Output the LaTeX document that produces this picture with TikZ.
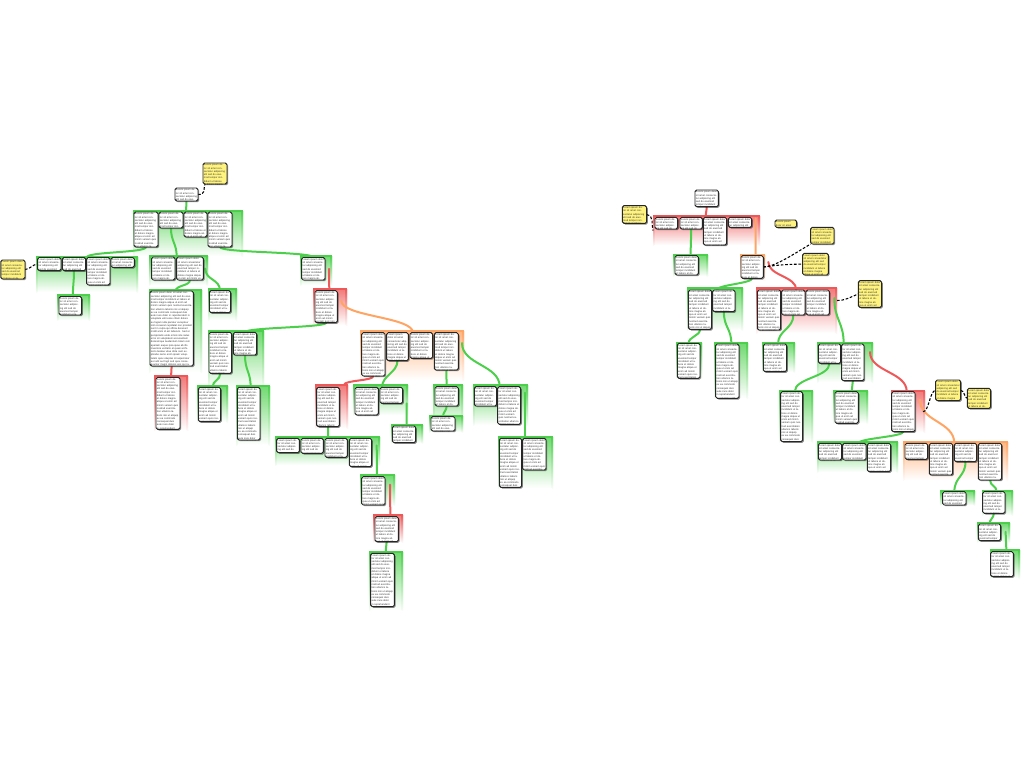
\documentclass[tikz,border=0pt]{standalone}
\usepackage{fontspec}
\setmainfont{Liberation Sans}
\usetikzlibrary{calc,shadows}
\pgfdeclarelayer{bg}
\pgfdeclarelayer{mid}
\pgfsetlayers{bg,mid,main}
\definecolor{cg}{RGB}{76,208,76}
\definecolor{cr}{RGB}{238,88,88}
\definecolor{co}{RGB}{255,165,100}
\definecolor{cy}{RGB}{255,243,128}
\newcommand\fillertext{Lorem ipsum dolor sit amet consectetur adipiscing elit sed do eiusmod tempor incididunt ut labore et dolore magna aliqua ut enim ad minim veniam quis nostrud exercitation ullamco laboris nisi ut aliquip ex ea commodo consequat duis aute irure dolor in reprehenderit in voluptate velit esse cillum dolore eu fugiat nulla pariatur excepteur sint occaecat cupidatat non proident sunt in culpa qui officia deserunt mollit anim id est laborum. Sed ut perspiciatis unde omnis iste natus error sit voluptatem accusantium doloremque laudantium totam rem aperiam eaque ipsa quae ab illo inventore veritatis et quasi architecto beatae vitae dicta sunt explicabo nemo enim ipsam voluptatem quia voluptas sit aspernatur aut odit aut fugit sed quia consequuntur magni dolores eos qui ratione voluptatem sequi nesciunt neque porro quisquam est qui dolorem ipsum quia dolor sit amet consectetur adipisci velit sed quia non numquam eius modi tempora incidunt ut labore et dolore magnam aliquam quaerat voluptatem ut enim ad minima veniam quis nostrum exercitationem ullam corporis suscipit laboriosam nisi ut aliquid ex ea commodi consequatur quis autem vel eum iure reprehenderit qui in ea voluptate velit esse quam nihil molestiae consequatur vel illum qui dolorem eum fugiat quo voluptas nulla pariatur at vero eos et accusamus et iusto odio dignissimos ducimus qui blanditiis praesentium voluptatum deleniti atque corrupti quos dolores et quas molestias excepturi sint occaecati cupiditate non provident similique sunt in culpa qui officia deserunt mollitia animi id est laborum et dolorum fuga.}
\tikzset{
  boxst/.style={draw=black!85, line width=0.7pt, rounded corners=1.2pt, fill=white, inner sep=0pt, outer sep=0pt,
    drop shadow={shadow xshift=0.9pt, shadow yshift=-0.9pt, fill=black, opacity=0.45}},
  notest/.style={boxst, fill=cy},
  conn/.style={line width=1.5pt, line cap=round},
  dsh/.style={draw=black, line width=0.8pt, dash pattern=on 2pt off 1.3pt},
  txt/.style={anchor=north west, inner sep=0.7pt, align=left, font=\fontsize{1.9}{2.45}\selectfont, text=black!80}
}
\newcommand\grp[6]{%
  \begin{pgfonlayer}{bg}
  \shade[top color=#2!80!white, bottom color=white] (#3,#4) rectangle (#5,#6);
  \shade[top color=#2, bottom color=#2!5!white] (#3,#4) rectangle (#3+1.3,#6);
  \shade[top color=#2, bottom color=#2!5!white] (#5-1.3,#4) rectangle (#5,#6);
  \draw[#2, line width=1.2pt] (#3,#4) -- (#5,#4);
  \pgfmathsetmacro\gw{(#5-#3)*0.75}\pgfmathsetmacro\gh{(#6-#4)*0.75}
  \node[inner sep=0pt, outer sep=0pt, minimum width=\gw pt, minimum height=\gh pt, anchor=north west] (#1) at (#3,#4) {};
  \end{pgfonlayer}}
\newcommand\bxg[6]{%
  \pgfmathsetmacro\bw{(#5-#3)*0.75}\pgfmathsetmacro\bh{(#6-#4)*0.75}\pgfmathsetmacro\tw{(#5-#3)*0.75-1.4}
  \node[#1, minimum width=\bw pt, minimum height=\bh pt, anchor=north west,
    path picture={\node[txt, text width=\tw pt] at (path picture bounding box.north west) {\fillertext};}] (#2) at (#3,#4) {};}
\newcommand\bx[5]{\bxg{boxst}{#1}{#2}{#3}{#4}{#5}}
\newcommand\nt[5]{\bxg{notest}{#1}{#2}{#3}{#4}{#5}}
\newcommand\cn[4]{\draw[conn,#1] #2 .. controls +(0,#4) and +(0,-#4) .. #3;}
\begin{document}
\begin{tikzpicture}[x=0.75pt,y=-0.75pt]
\begin{pgfonlayer}{bg}
\fill[white] (0,0) rectangle (1024,768);
\end{pgfonlayer}
\useasboundingbox (0,0) rectangle (1024,768);
% ---------- frames ----------
\grp{G1}{cg}{133}{211}{243}{256}
\grp{G2}{cg}{36}{257}{138}{292}
\grp{G3}{cg}{57}{295}{90}{320}
\grp{G4}{cg}{149}{256}{208}{285}
\grp{G5}{cg}{300}{256}{332}{285}
\grp{G6}{cg}{149}{290}{202}{372}
\grp{G7}{cg}{208}{289}{237}{320}
\grp{G8}{cr}{313}{289}{347}{325}
\grp{G9}{cg}{208}{331}{264}{388}
\grp{G10}{cr}{154}{376}{188}{430}
\grp{G11}{cg}{197}{386}{228}{422}
\grp{G12}{cg}{236}{386}{270}{445}
\grp{G13}{co}{360}{331}{464}{380}
\grp{G14}{cr}{315}{385}{348}{428}
\grp{G15}{cg}{353}{385}{408}{415}
\grp{G16}{cg}{391}{425}{423}{443}
\grp{G17}{cg}{433}{385}{463}{425}
\grp{G18}{cg}{429}{416}{463}{432}
\grp{G19}{cg}{473}{385}{528}{425}
\grp{G20}{cg}{498}{437}{553}{488}
\grp{G21}{cg}{275}{437}{380}{465}
\grp{G22}{cg}{360}{475}{395}{505}
\grp{G23}{cr}{373}{515}{403}{542}
\grp{G24}{cg}{369}{552}{403}{610}
\grp{H1}{cr}{653}{216}{760}{245}
\grp{H2}{cg}{673}{255}{708}{276}
\grp{H3}{co}{740}{255}{765}{280}
\grp{H4}{cg}{687}{288}{743}{330}
\grp{H5}{cr}{756}{288}{837}{333}
\grp{H6}{cg}{676}{343}{702}{378}
\grp{H7}{cg}{714}{343}{748}{398}
\grp{H8}{cg}{762}{343}{795}{372}
\grp{H9}{cg}{817}{343}{873}{382}
\grp{H10}{cg}{779}{391}{813}{442}
\grp{H11}{cg}{833}{391}{868}{423}
\grp{H12}{cr}{891}{391}{925}{432}
\grp{H13}{cg}{817}{442}{898}{472}
\grp{H14}{co}{903}{442}{1008}{480}
\grp{H15}{cg}{940}{491}{975}{505}
\grp{H16}{cg}{982}{491}{1013}{515}
\grp{H17}{cg}{977}{523}{1010}{542}
\grp{H18}{cg}{990}{550}{1020}{578}
% ---------- boxes, left tree ----------
\bx{R}{175}{188}{198}{201}
\bx{a1}{134}{212}{158}{247}\bx{a2}{159}{212}{183}{228}\bx{a3}{184}{212}{207}{237}\bx{a4}{208}{212}{232}{247}
\bx{b1}{37.7}{257.5}{61}{270.7}\bx{b2}{62.3}{257.5}{85.7}{270.7}\bx{b3}{86.7}{257.5}{110}{285}\bx{b4}{111}{257.5}{134.3}{267.3}
\bx{c1}{59}{296.5}{81.7}{315}
\bx{d1}{151.7}{257}{175}{280}\bx{d2}{176.7}{257}{203.3}{280}
\bx{e1}{301.7}{257.5}{325}{280}
\bx{f1}{150}{291}{193.3}{366}
\bx{g1}{209.3}{290.7}{230.7}{312.7}
\bx{h1}{315}{290.7}{337.3}{322.7}
\bx{i1}{209}{332.3}{231.7}{373.3}\bx{i2}{233.3}{332.3}{256.7}{355}
\bx{j1}{156}{377.3}{180}{429.3}
\bx{k1}{198.3}{387.3}{220.7}{421.7}
\bx{k2}{237.3}{387.3}{260}{440}
\bx{l1}{361.7}{332.7}{385}{376}\bx{l2}{386.7}{332.7}{408.3}{360.7}\bx{l3}{410}{332.7}{432.7}{358.3}\bx{l4}{434.3}{332.7}{458.3}{370}
\bx{m1}{316.7}{387.3}{339.3}{426.7}
\bx{n1}{355}{387.3}{378.3}{415}\bx{n2}{380}{387.3}{402.7}{403.3}
\bx{o1}{392.3}{426}{415.7}{442.7}
\bx{p1}{435}{386.7}{458.3}{406}
\bx{q1}{431}{416.7}{455}{431}
\bx{r1}{474.3}{386.7}{496.7}{406}\bx{r2}{497.7}{386.7}{520.7}{424.3}
\bx{s1}{499.3}{438.3}{521.7}{487.3}\bx{s2}{522.7}{438.3}{546}{470}
\bx{t1}{276.7}{438.3}{299.3}{452.7}\bx{t2}{301}{438.3}{323.3}{453.3}\bx{t3}{325}{438.3}{347.3}{457.3}\bx{t4}{349.3}{438.3}{371.7}{466.7}
\bx{u1}{361.7}{476.7}{385}{505}
\bx{v1}{375}{516.7}{398.3}{541.7}
\bx{w1}{370.7}{553.3}{394.3}{606.7}
% ---------- boxes, right tree ----------
\bx{R2}{695}{190}{718.3}{206.7}
\bx{x1}{655}{217.3}{677.7}{229}\bx{x2}{680}{217.3}{702.3}{229}\bx{x3}{703.3}{217.3}{726.7}{245}\bx{x4}{728.3}{217.3}{751.7}{227.3}
\bx{y1}{675}{255.7}{698.3}{275}
\bx{z1}{741}{255.7}{763.3}{278.3}
\bx{aa1}{688.3}{290}{711.7}{329.3}\bx{aa2}{712.7}{290}{735}{311.7}
\bx{bb1}{757.3}{290}{780.7}{330}\bx{bb2}{781.7}{290}{805}{315}\bx{bb3}{806}{290}{829.3}{315}
\bx{cc1}{677.3}{343.3}{700}{378.3}
\bx{cc2}{715.7}{344}{739}{398.3}
\bx{dd1}{763.3}{344}{786.7}{371.7}
\bx{ee1}{818.3}{344}{840.7}{363.3}\bx{ee2}{841.7}{344}{864}{380.7}
\bx{ff1}{780.7}{391.7}{802.7}{441.7}
\bx{gg1}{835}{391.7}{858.3}{423.3}
\bx{hh1}{891.7}{391.7}{915}{431.7}
\bx{ii1}{818.3}{443.3}{841.7}{460}\bx{ii2}{842.7}{443.3}{866}{460}\bx{ii3}{867.3}{443.3}{890.7}{471.7}
\bx{jj1}{905}{443.3}{927.7}{459.3}\bx{jj2}{929.3}{443.3}{952.7}{475}\bx{jj3}{954.3}{443.3}{976.7}{461.7}\bx{jj4}{978.3}{443.3}{1001.7}{480}
\bx{kk1}{942.7}{491.7}{966}{505}
\bx{kk2}{982.7}{491.7}{1005}{513.3}
\bx{ll1}{978.3}{524}{1000.7}{540.7}
\bx{mm1}{990.7}{551.7}{1013.3}{576.7}
% ---------- notes ----------
\nt{N1}{203}{163}{227}{184}
\nt{N2}{0.8}{260}{25}{279}
\nt{N3}{622.3}{205.7}{646.7}{223.3}
\nt{N4}{775}{220}{796.7}{227.3}
\nt{N5}{810.7}{227.3}{834}{244}
\nt{N6}{802.7}{253.3}{828.3}{275}
\nt{N7}{858.3}{280.7}{881.7}{307.3}
\nt{N8}{935.7}{380}{960.7}{400.7}
\nt{N9}{967.3}{388.3}{990.7}{408.3}
% ---------- connectors ----------
\begin{pgfonlayer}{mid}
\cn{cg}{(R.south)}{($(a3.north west)+(2,0)$)}{5}
\cn{cg}{(a1.south)}{(b3.north west)}{6}
\cn{cg}{(b2.south)}{($(c1.north)+(2.5,0)$)}{12}
\cn{cg}{(a2.south)}{(d2.north west)}{14}
\cn{cg}{(a4.south)}{(e1.north)}{6}
\cn{cg}{(d2.south)}{($(f1.north)+(4,0)$)}{6}
\cn{cg}{($(d2.east)+(2,0)$)}{(g1.north)}{12}
\cn{cr}{($(e1.east)+(4,0)$)}{($(h1.north east)+(-8,0)$)}{10}
\cn{cg}{(h1.south)}{(i2.north)}{5}
\cn{cr}{(f1.south)}{($(j1.north)+(3,0)$)}{5}
\cn{cg}{(i1.south)}{($(k1.north)+(3,0)$)}{7}
\cn{cg}{(i2.south)}{($(k2.north)+(2,0)$)}{16}
\cn{co}{($(h1.east)+(4,-6)$)}{($(l3.north west)+(3,0)$)}{16}
\cn{cr}{(l1.south)}{($(G14.north east)+(-4,0)$)}{5}
\cn{cg}{(l2.south)}{($(n2.north west)+(2,0)$)}{12}
\cn{cg}{($(n2.south east)+(4,0)$)}{($(o1.north east)+(-9,0)$)}{10}
\cn{cg}{(l4.south)}{(p1.north)}{8}
\cn{cg}{(p1.south)}{(q1.north)}{5}
\cn{cg}{($(G13.north east)+(-2,12)$)}{($(r2.north west)+(2,0)$)}{22}
\cn{cg}{($(r2.north east)+(4,6)$)}{($(s2.north west)+(2,0)$)}{20}
\cn{cg}{(m1.south)}{($(t3.north west)+(3,0)$)}{5}
\cn{cg}{($(t4.north east)+(5,7)$)}{($(u1.north east)+(-8,0)$)}{15}
\cn{cr}{($(u1.north east)+(5,8)$)}{($(v1.north east)+(-8,0)$)}{15}
\cn{cg}{(v1.south)}{($(w1.north)+(3,0)$)}{5}
\cn{cr}{(R2.south)}{($(x3.north west)+(2.4,0)$)}{4}
\cn{cg}{(x2.south)}{($(y1.north)+(4,0)$)}{12}
\cn{co}{($(x4.east)+(4,-4)$)}{($(z1.north)+(3.5,0)$)}{18}
\cn{cg}{(z1.south)}{($(aa2.north west)+(4,0)$)}{5}
\cn{cr}{($(z1.east)+(5,-5)$)}{($(bb2.north)+(3,0)$)}{14}
\cn{cg}{(aa1.south)}{(cc1.north)}{7}
\cn{cg}{(aa2.south)}{($(cc2.north)+(4,0)$)}{16}
\cn{cg}{(bb2.south)}{($(dd1.north)+(3,0)$)}{14}
\cn{cg}{($(bb3.east)+(5,-4.5)$)}{($(ee2.north west)+(2,0)$)}{22}
\cn{cg}{(ee1.south)}{($(ff1.north)+(3,0)$)}{14}
\cn{cg}{(ee2.south)}{($(gg1.north)+(5,0)$)}{5}
\cn{cr}{($(ee2.north east)+(6,8)$)}{($(hh1.north)+(3.4,0)$)}{20}
\cn{cg}{(hh1.south)}{($(ii2.north)+(4,0)$)}{5}
\cn{co}{($(hh1.east)+(5,-12)$)}{(jj3.north west)}{22}
\cn{cg}{(jj3.south)}{(kk1.north)}{15}
\cn{cg}{(jj4.south)}{($(kk2.north)+(2.8,0)$)}{6}
\cn{cg}{(kk2.south)}{(ll1.north)}{5}
\cn{cg}{($(ll1.east)+(5,-0.6)$)}{($(mm1.north east)+(-7,0)$)}{9}
% dashed note links
\draw[dsh] (R.east) .. controls +(8,0) and +(-2,6) .. ($(N1.south west)+(2,0)$);
\draw[dsh] (N2.east) .. controls +(5,0) and +(-5,0) .. (b1.west);
\draw[dsh] (N3.east) .. controls +(8,2) and +(-2,-6) .. (H1.west);
\draw[dsh] (z1.east) .. controls +(12,0) and +(-14,8) .. (N5.south west);
\draw[dsh] (z1.east) .. controls +(14,-2) and +(-14,0) .. (N6.west);
\draw[dsh] ($(H5.east)+(0,-10)$) .. controls +(8,0) and +(-10,4) .. (N7.west);
\draw[dsh] ($(hh1.east)+(8,0)$) .. controls +(6,0) and +(-6,0) .. (N8.west);
\draw[dsh] (N8.east) .. controls +(4,0) and +(-3,0) .. (N9.west);
\end{pgfonlayer}
\end{tikzpicture}
\end{document}
